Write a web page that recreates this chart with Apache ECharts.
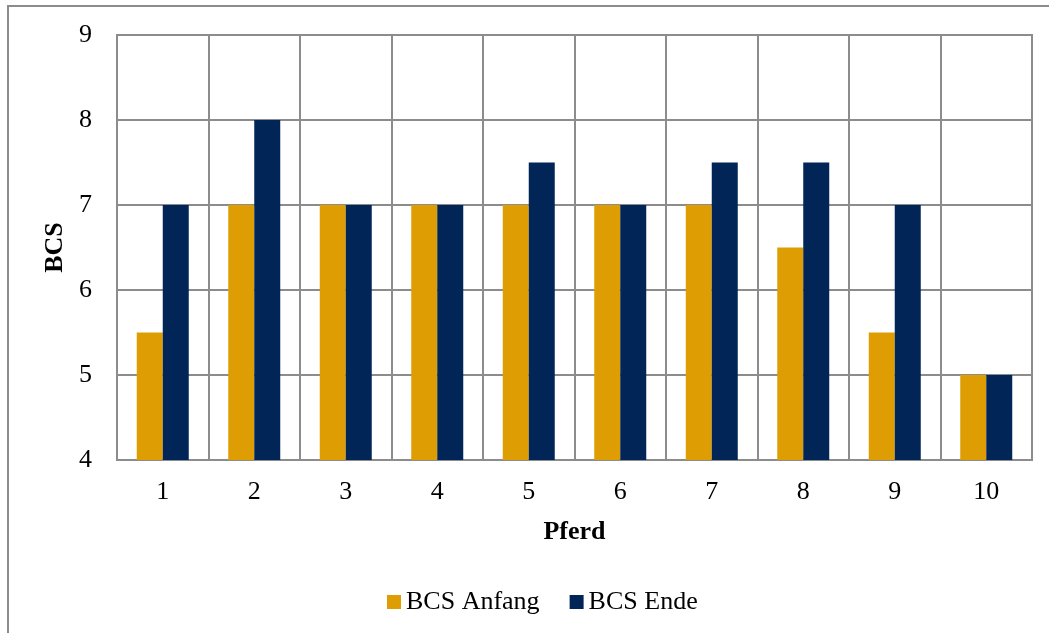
<!DOCTYPE html>
<html><head><meta charset="utf-8">
<script src="https://cdn.jsdelivr.net/npm/echarts@6/dist/echarts.min.js"></script>
<style>html,body{margin:0;padding:0;background:#fff}#c{width:1049px;height:633px}</style>
</head><body><div id="c"></div>
<script>
var categories = ['1','2','3','4','5','6','7','8','9','10'];
var bcsAnfang = [5.5, 7, 7, 7, 7, 7, 7, 6.5, 5.5, 5];
var bcsEnde = [7, 8, 7, 7, 7.5, 7, 7.5, 7.5, 7, 5];
var font = '"Liberation Serif", "Times New Roman", serif';
var chart = echarts.init(document.getElementById('c'));
chart.setOption({
  animation: false,
  textStyle: {fontFamily: font, color: '#000'},
  graphic: [{type: 'rect', shape: {x: 8, y: 6, width: 1200, height: 800}, style: {fill: 'none', stroke: '#8c8c8c', lineWidth: 2}, z: -1}],
  grid: {left: 117, right: 17, top: 35, bottom: 173, show: true, borderColor: '#8c8c8c', borderWidth: 2},
  legend: {top: 584, left: 382, itemWidth: 14, itemHeight: 14, itemGap: 30, icon: 'rect',
    textStyle: {fontFamily: font, fontSize: 26, color: '#000'},
    data: ['BCS Anfang', 'BCS Ende']},
  xAxis: {type: 'category', data: categories, name: 'Pferd', nameLocation: 'middle', nameGap: 59,
    nameTextStyle: {fontFamily: font, fontSize: 26, fontWeight: 'bold', color: '#000'},
    axisLine: {lineStyle: {color: '#8c8c8c', width: 2}}, axisTick: {show: false},
    splitLine: {show: true, interval: 0, lineStyle: {color: '#8c8c8c', width: 2}},
    axisLabel: {fontFamily: font, fontSize: 26, color: '#000', margin: 19}},
  yAxis: {type: 'value', min: 4, max: 9, interval: 1, name: 'BCS', nameLocation: 'middle', nameGap: 42,
    nameTextStyle: {fontFamily: font, fontSize: 26, fontWeight: 'bold', color: '#000'},
    axisLine: {show: true, lineStyle: {color: '#8c8c8c', width: 2}}, axisTick: {show: false},
    splitLine: {lineStyle: {color: '#8c8c8c', width: 2}},
    axisLabel: {fontFamily: font, fontSize: 26, color: '#000', margin: 25}},
  series: [
    {name: 'BCS Anfang', type: 'bar', data: bcsAnfang, barWidth: 26, barGap: '0%', itemStyle: {color: '#DE9E03'}},
    {name: 'BCS Ende', type: 'bar', data: bcsEnde, barWidth: 26, barGap: '0%', itemStyle: {color: '#012557'}}
  ]
});
</script></body></html>
